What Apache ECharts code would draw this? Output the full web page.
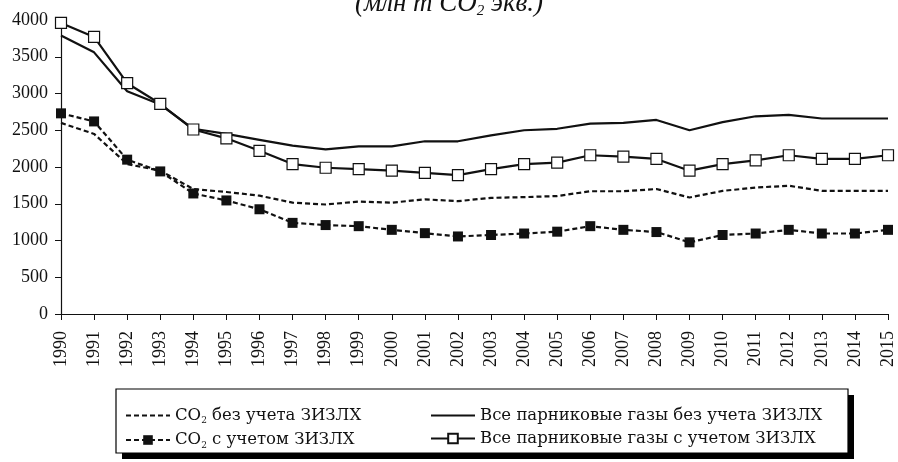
<!DOCTYPE html>
<html>
<head>
<meta charset="utf-8">
<script src="https://cdn.jsdelivr.net/npm/echarts@6/dist/echarts.min.js"></script>
<style>
  html, body { margin: 0; padding: 0; background: #fff; }
  #chart { width: 898px; height: 462px; }
</style>
</head>
<body>
<div id="chart"></div>
<script>
const years = ['1990', '1991', '1992', '1993', '1994', '1995', '1996', '1997', '1998', '1999', '2000', '2001', '2002',
  '2003', '2004', '2005', '2006', '2007', '2008', '2009', '2010', '2011', '2012', '2013', '2014', '2015'];

const co2NoLulucf = [2600, 2450, 2040, 1950, 1700, 1660, 1610, 1515, 1490, 1530, 1515, 1560, 1535,
  1580, 1590, 1605, 1670, 1670, 1700, 1585, 1675, 1720, 1745, 1675, 1675, 1675];
const co2WithLulucf = [2730, 2620, 2100, 1940, 1640, 1545, 1425, 1240, 1210, 1195, 1145, 1100, 1055,
  1075, 1095, 1120, 1195, 1145, 1115, 975, 1075, 1095, 1145, 1095, 1095, 1145];
const ghgNoLulucf = [3790, 3560, 3030, 2850, 2520, 2450, 2370, 2290, 2240, 2280, 2280, 2350, 2350,
  2430, 2500, 2520, 2590, 2600, 2640, 2500, 2610, 2690, 2710, 2660, 2660, 2660];
const ghgWithLulucf = [3960, 3770, 3140, 2860, 2510, 2390, 2220, 2040, 1990, 1970, 1950, 1920, 1890,
  1970, 2040, 2060, 2160, 2140, 2110, 1950, 2040, 2090, 2160, 2110, 2110, 2160];

const yTicks = [0, 500, 1000, 1500, 2000, 2500, 3000, 3500, 4000];

const names = {
  co2No: 'CO2 без учета ЗИЗЛХ',
  co2With: 'CO2 с учетом ЗИЗЛХ',
  ghgNo: 'Все парниковые газы без учета ЗИЗЛХ',
  ghgWith: 'Все парниковые газы с учетом ЗИЗЛХ'
};

const serif = "'Liberation Serif', 'DejaVu Serif', serif";
const wideSerif = "'DejaVu Serif', 'Liberation Serif', serif";
const ink = '#111';

const chart = echarts.init(document.getElementById('chart'));

const legendText = (name) => name.startsWith('CO2')
  ? `{t|CO}{s|2}{t|${name.slice(3)}}`
  : `{t|${name}}`;

const legendRich = {
  t: { fontFamily: wideSerif, fontSize: 16.5, color: ink, lineHeight: 20 },
  s: { fontFamily: wideSerif, fontSize: 9, color: ink, lineHeight: 10, verticalAlign: 'bottom' }
};

const legendBase = {
  orient: 'vertical',
  top: 402,
  itemWidth: 44,
  itemHeight: 12,
  itemGap: 6,
  selectedMode: false,
  formatter: legendText,
  textStyle: { rich: legendRich }
};

// line-only legend entries: hide the default symbol
const noMark = { opacity: 0, borderWidth: 0 };

chart.setOption({
  backgroundColor: '#fff',
  animation: false,
  graphic: [
    {
      type: 'text',
      left: 'center',
      top: -10,
      style: {
        text: '{i|(млн т CO}{s|2}{i| экв.)}',
        rich: {
          i: { fontFamily: serif, fontStyle: 'italic', fontSize: 27, lineHeight: 30, fill: ink },
          s: { fontFamily: serif, fontStyle: 'italic', fontSize: 15, lineHeight: 14, verticalAlign: 'bottom', fill: ink }
        }
      }
    },
    {
      type: 'rect',
      z: -2,
      shape: { x: 122, y: 395, width: 732, height: 64 },
      style: { fill: '#000' }
    },
    {
      type: 'rect',
      z: -1,
      shape: { x: 116, y: 389, width: 732, height: 64 },
      style: { fill: '#fff', stroke: '#000', lineWidth: 1.2 }
    }
  ],
  grid: { left: 61, right: 10, top: 20, bottom: 148 },
  legend: [
    Object.assign({}, legendBase, {
      left: 120,
      data: [{ name: names.co2No, itemStyle: noMark }, names.co2With]
    }),
    Object.assign({}, legendBase, {
      left: 425,
      data: [{ name: names.ghgNo, itemStyle: noMark }, names.ghgWith]
    })
  ],
  xAxis: {
    type: 'category',
    data: years,
    boundaryGap: false,
    axisLine: { lineStyle: { color: ink, width: 1.2 } },
    axisTick: { show: true, length: 6, interval: 0, lineStyle: { color: ink } },
    axisLabel: { interval: 0, rotate: 90, margin: 17, fontFamily: serif, fontSize: 18, color: ink },
    splitLine: { show: false }
  },
  yAxis: {
    type: 'value',
    min: yTicks[0],
    max: yTicks[yTicks.length - 1],
    interval: 500,
    axisLine: { show: true, lineStyle: { color: ink, width: 1.2 } },
    axisTick: { show: true, length: 6, lineStyle: { color: ink } },
    axisLabel: { margin: 13, fontFamily: serif, fontSize: 18, color: ink, formatter: (v) => String(v) },
    splitLine: { show: false }
  },
  series: [
    {
      name: names.co2No,
      type: 'line',
      data: co2NoLulucf,
      symbol: 'none',
      lineStyle: { color: ink, width: 2.2, type: [5, 3] },
      itemStyle: { color: ink }
    },
    {
      name: names.co2With,
      type: 'line',
      data: co2WithLulucf,
      symbol: 'rect',
      symbolSize: 10,
      lineStyle: { color: ink, width: 2.2, type: [5, 3] },
      itemStyle: { color: ink, borderColor: ink, borderWidth: 0 }
    },
    {
      name: names.ghgNo,
      type: 'line',
      data: ghgNoLulucf,
      symbol: 'none',
      lineStyle: { color: ink, width: 2.2 },
      itemStyle: { color: ink }
    },
    {
      name: names.ghgWith,
      type: 'line',
      data: ghgWithLulucf,
      symbol: 'rect',
      symbolSize: 11,
      lineStyle: { color: ink, width: 2.2 },
      itemStyle: { color: '#fff', borderColor: ink, borderWidth: 1.2 }
    }
  ]
});

window.addEventListener('resize', () => chart.resize());
</script>
</body>
</html>
